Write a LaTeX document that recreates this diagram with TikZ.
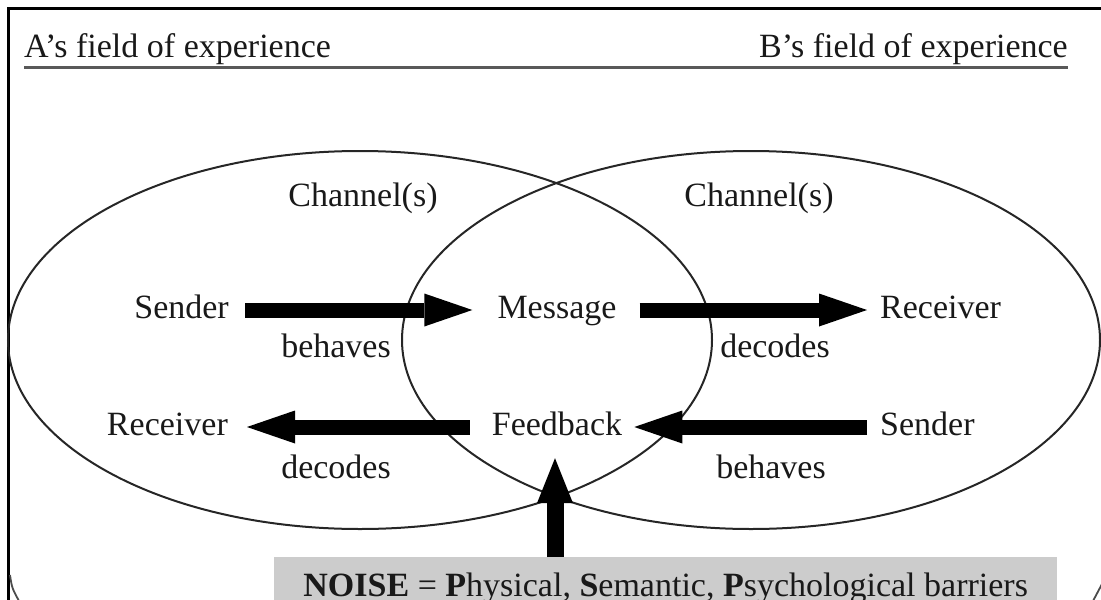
\documentclass[tikz,border=0pt]{standalone}
\usepackage{fontspec}
\setmainfont{Liberation Serif}
\usetikzlibrary{arrows.meta}
\tikzset{
  lbl/.style={font=\fontsize{34}{40}\selectfont, inner sep=0pt, text height=23pt, text depth=7pt, text=black!90},
  blockarrow/.style={line width=15pt, -{Triangle[width=33pt,length=48pt,line width=0pt]}},
  vblockarrow/.style={line width=17pt, -{Triangle[width=36pt,length=45pt,line width=0pt]}},
  oval/.style={line width=2pt, draw=black!85},
  framestyle/.style={line width=3pt, draw=black},
  corner/.style={line width=1.8pt, draw=black!70}
}
\begin{document}
\begin{tikzpicture}[x=1pt,y=-1pt]
\useasboundingbox (0,0) rectangle (1101,600);
% frame
\draw[framestyle] (8,601) -- (8,8) -- (1102,8);
\draw[corner] (10,575) .. controls (12,588) .. (19,601);
\draw[corner] (1093,601) .. controls (1097,592) .. (1102,584);
% headers
\node[lbl, anchor=base west] (hA) at (24,57) {A’s field of experience};
\node[lbl, anchor=base east] (hB) at (1068,57) {B’s field of experience};
\draw[line width=3pt, draw=black!65] (24,67) -- (1068,67);
% ellipses
\draw[oval] (360,340) ellipse [x radius=352, y radius=189];
\draw[oval] (751,340) ellipse [x radius=349, y radius=189];
% labels
\node[lbl, anchor=base] (chA) at (363,206) {Channel(s)};
\node[lbl, anchor=base] (chB) at (759,206) {Channel(s)};
\node[lbl, anchor=base east] (sA) at (229,318) {Sender};
\node[lbl, anchor=base] (msg) at (557,318) {Message};
\node[lbl, anchor=base west] (rB) at (880,318) {Receiver};
\node[lbl, anchor=base] (behA) at (336,357) {behaves};
\node[lbl, anchor=base] (decB) at (775,357) {decodes};
\node[lbl, anchor=base east] (rA) at (228,435) {Receiver};
\node[lbl, anchor=base] (fb) at (557,435) {Feedback};
\node[lbl, anchor=base west] (sB) at (880,435) {Sender};
\node[lbl, anchor=base] (decA) at (336,478) {decodes};
\node[lbl, anchor=base] (behB) at (771,478) {behaves};
% noise box
\node[anchor=north west, fill=black!20, minimum width=783pt, inner xsep=0pt, inner ysep=14pt,
      text height=25pt, text depth=8pt, font=\fontsize{34}{40}\selectfont, text=black!90] (noise) at (274,557)
  {\textbf{NOISE} = \textbf{P}hysical, \textbf{S}emantic, \textbf{P}sychological barriers};
% arrows
\draw[blockarrow, shorten <=16pt, shorten >=25pt] (sA.east) -- (msg.west);
\draw[blockarrow, shorten <=23pt, shorten >=13pt] (msg.east) -- (rB.west);
\draw[blockarrow, shorten <=22pt, shorten >=19pt] (fb.west) -- (rA.east);
\draw[blockarrow, shorten <=13pt, shorten >=12pt] (sB.west) -- (fb.east);
\draw[vblockarrow, shorten >=16pt] ([xshift=-2pt]fb.south |- noise.north) -- ([xshift=-2pt]fb.south);
\end{tikzpicture}
\end{document}
